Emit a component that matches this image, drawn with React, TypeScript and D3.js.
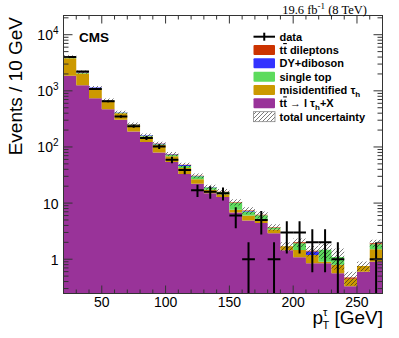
import React, { useEffect, useRef } from "react";
import * as d3 from "d3";

// bin lower edges (GeV), 10 GeV bins
const binLow = [20, 30, 40, 50, 60, 70, 80, 90, 100, 110, 120, 130, 140, 150, 160, 170, 180, 190, 200, 210, 220, 230, 240, 250, 260];

// stacked MC contributions, bottom to top
const ttLtau = [1860, 1260, 740, 470, 305, 189, 122, 80, 54, 33, 22, 15, 12.8, 6.8, 4.9, 4.4, 2.9, 1.45, 1.08, 0.85, 0.85, 0.56, 0.33, 0.6, 0.9];
const misidTau = [1950, 780, 350, 185, 92, 55, 32, 28, 14, 9, 4.5, 2.2, 1.5, 0.8, 1.1, 0.6, 0.5, 0.25, 0.38, 0.34, 0.05, 0.24, 0.12, 0.16, 0.61];
const singleTop = [150, 70, 35, 18, 10, 8, 5, 4, 5, 4, 3.5, 1.7, 1.5, 2.5, 1.1, 1.1, 0.25, 0, 0.47, 0, 0.57, 0.3, 0, 0, 0.34];
const dyDiboson = [80, 40, 20, 10, 4, 3, 2, 2.5, 1.5, 1.5, 0.3, 0.2, 0, 0, 0.15, 0, 0, 0, 0, 0.18, 0, 0, 0, 0, 0];
const ttDilep = [20, 10, 5, 2, 1, 1, 1, 0.5, 0.5, 0.5, 0.3, 0.1, 0.2, 0.3, 0.15, 0.1, 0.05, 0, 0.07, 0.05, 0, 0, 0.02, 0, 0.08];
const totalUnc = [250, 140, 75, 45, 28, 18, 12, 9, 6, 4.5, 3, 2, 1.8, 1.3, 1.0, 0.9, 0.5, 0.3, 0.35, 0.3, 0.45, 0.45, 0.13, 0.15, 0.3];
const dataCounts = [4000, 2200, 1080, 650, 350, 235, 145, 102, 59, 39, 17, 16, 15, 6, 1, 5, 1, 3, 3, 2, 2, 1, 0, 0, 1];

const xMajor = [50, 100, 150, 200, 250];
const yMajor = [1, 10, 100, 1000, 10000];
const yMajorLabel = ["1", "10", "10", "10", "10"];
const yMajorExp = ["", "", "2", "3", "4"];

const colors: Record<string, string> = {
  ttLtau: "#993399",
  misid: "#cc9900",
  singleTop: "#5ddb5d",
  dy: "#3333ff",
  ttDilep: "#cc3300",
};

const W = 399;
const H = 338;
const M = { left: 63.5, right: 382.5, top: 15.5, bottom: 293.5 };
const FONT = "'Liberation Sans', Arial, Helvetica, sans-serif";

export default function App() {
  const ref = useRef<SVGGElement>(null);

  useEffect(() => {
    const g = d3.select(ref.current);
    g.selectAll("*").remove();

    const x = d3.scaleLinear().domain([20, 270]).range([M.left, M.right]);
    const y = d3.scaleLog().domain([0.245, 22000]).range([M.bottom, M.top]);
    const yc = (v: number) => y(Math.max(v, 0.1));

    const keys = ["ttLtau", "misid", "singleTop", "dy", "ttDilep"];
    const rows = binLow.map((lo, i) => ({
      lo,
      ttLtau: ttLtau[i],
      misid: misidTau[i],
      singleTop: singleTop[i],
      dy: dyDiboson[i],
      ttDilep: ttDilep[i],
      unc: totalUnc[i],
    }));
    const rowsExt = [...rows, { ...rows[rows.length - 1], lo: 270 }];
    const series = d3.stack<any>().keys(keys)(rowsExt);

    const plot = g.append("g").attr("clip-path", "url(#plotClip)");

    const area = d3
      .area<any>()
      .curve(d3.curveStepAfter)
      .x((d) => x(d.data.lo))
      .y0((d) => yc(d[0]))
      .y1((d) => yc(d[1]));

    plot
      .selectAll("path.layer")
      .data(series)
      .enter()
      .append("path")
      .attr("class", "layer")
      .attr("fill", (s) => colors[s.key])
      .attr("d", area);

    // total uncertainty band
    const top = series[series.length - 1];
    const band = d3
      .area<any>()
      .curve(d3.curveStepAfter)
      .x((d) => x(d.data.lo))
      .y0((d) => yc(d[1] - d.data.unc))
      .y1((d) => yc(d[1] + d.data.unc));
    plot.append("path").attr("fill", "url(#hatch)").attr("d", band(top));

    // data points
    const pts = binLow
      .map((lo, i) => ({ lo, n: dataCounts[i] }))
      .filter((d) => d.n > 0);
    const dg = plot.append("g").attr("stroke", "#000").attr("stroke-width", 2);
    dg.selectAll("line.h")
      .data(pts)
      .enter()
      .append("line")
      .attr("x1", (d) => x(d.lo))
      .attr("x2", (d) => x(d.lo + 10))
      .attr("y1", (d) => y(d.n))
      .attr("y2", (d) => y(d.n));
    dg.selectAll("line.v")
      .data(pts)
      .enter()
      .append("line")
      .attr("x1", (d) => x(d.lo + 5))
      .attr("x2", (d) => x(d.lo + 5))
      .attr("y1", (d) => yc(d.n + Math.sqrt(d.n)))
      .attr("y2", (d) => yc(d.n - Math.sqrt(d.n)));

    // frame and ticks
    const ax = g.append("g").attr("stroke", "#333").attr("stroke-width", 1).attr("fill", "none");
    ax.append("rect")
      .attr("x", M.left)
      .attr("y", M.top)
      .attr("width", M.right - M.left)
      .attr("height", M.bottom - M.top);

    const xTicks = d3.range(30, 270, 10);
    xTicks.forEach((v) => {
      const len = v % 50 === 0 ? 8 : 4;
      ax.append("line").attr("x1", x(v)).attr("x2", x(v)).attr("y1", M.bottom).attr("y2", M.bottom - len);
      ax.append("line").attr("x1", x(v)).attr("x2", x(v)).attr("y1", M.top).attr("y2", M.top + len);
    });

    y.ticks().forEach((v) => {
      const lg = Math.log10(v);
      const len = Math.abs(lg - Math.round(lg)) < 1e-6 ? 9 : 5;
      ax.append("line").attr("x1", M.left).attr("x2", M.left + len).attr("y1", y(v)).attr("y2", y(v));
      ax.append("line").attr("x1", M.right).attr("x2", M.right - len).attr("y1", y(v)).attr("y2", y(v));
    });

    // tick labels
    const lab = g.append("g").attr("font-family", FONT).attr("fill", "#000");
    lab.selectAll("text.xl")
      .data(xMajor)
      .enter()
      .append("text")
      .attr("x", (d) => x(d))
      .attr("y", 307)
      .attr("text-anchor", "middle")
      .attr("font-size", 14)
      .text((d) => d);

    yMajor.forEach((v, i) => {
      const t = lab
        .append("text")
        .attr("x", 58.5)
        .attr("y", y(v) + 5.5)
        .attr("text-anchor", "end")
        .attr("font-size", 14);
      t.append("tspan").text(yMajorLabel[i]);
      if (yMajorExp[i]) {
        t.append("tspan").attr("dy", -6).attr("font-size", 10).text(yMajorExp[i]);
      }
    });
  }, []);

  const legendX = 253.5;
  const legendY = (i: number) => 36.7 + 13.33 * i;
  const box = (i: number, fill: string) => (
    <rect x={legendX} y={legendY(i) - 5} width={21.5} height={10} rx={1} fill={fill} />
  );

  return (
    <svg width={W} height={H} style={{ position: "absolute", left: 0, top: 0, background: "#fff" }}>
      <defs>
        <clipPath id="plotClip">
          <rect x={M.left} y={M.top} width={M.right - M.left} height={M.bottom - M.top} />
        </clipPath>
        <pattern id="hatch" patternUnits="userSpaceOnUse" width="4" height="4">
          <path d="M-1,1 l2,-2 M0,4 l4,-4 M3,5 l2,-2" stroke="#222" strokeWidth="0.6" />
        </pattern>
      </defs>
      <rect x={0} y={0} width={W} height={H} fill="#fff" />
      <g ref={ref} />

      <text x={367} y={13.5} textAnchor="end" fontFamily="'Liberation Serif', 'Times New Roman', serif" fontSize={12.5}>
        19.6 fb<tspan dy={-4.5} fontSize={9}>-1</tspan>
        <tspan dy={4.5}> (8 TeV)</tspan>
      </text>

      <text x={79} y={41.5} fontFamily={FONT} fontWeight="bold" fontSize={13.5}>
        CMS
      </text>

      <text
        transform="translate(22,17) rotate(-90)"
        textAnchor="end"
        fontFamily={FONT}
        fontSize={19}
      >
        Events / 10 GeV
      </text>

      <text x={383} y={324} textAnchor="end" fontFamily={FONT} fontSize={19}>
        p<tspan dy={-8} fontSize={11}>τ</tspan>
        <tspan dx={-5} dy={13} fontSize={11}>T</tspan>
        <tspan dy={-5}> [GeV]</tspan>
      </text>

      <g fontFamily={FONT} fontWeight="bold" fontSize={11}>
        <line x1={legendX} x2={legendX + 21.5} y1={legendY(0)} y2={legendY(0)} stroke="#000" strokeWidth={2} />
        <line x1={legendX + 10.75} x2={legendX + 10.75} y1={legendY(0) - 4} y2={legendY(0) + 4} stroke="#000" strokeWidth={2} />
        <text x={279.5} y={legendY(0) + 4}>data</text>

        {box(1, colors.ttDilep)}
        <text x={279.5} y={legendY(1) + 4}>
          t<tspan style={{ textDecoration: "overline" }}>t</tspan> dileptons
        </text>

        {box(2, colors.dy)}
        <text x={279.5} y={legendY(2) + 4}>DY+diboson</text>

        {box(3, colors.singleTop)}
        <text x={279.5} y={legendY(3) + 4}>single top</text>

        {box(4, colors.misid)}
        <text x={279.5} y={legendY(4) + 4}>
          misidentified τ<tspan dy={2.5} fontSize={8}>h</tspan>
        </text>

        {box(5, colors.ttLtau)}
        <text x={279.5} y={legendY(5) + 4}>
          t<tspan style={{ textDecoration: "overline" }}>t</tspan> → l τ<tspan dy={2.5} fontSize={8}>h</tspan>
          <tspan dy={-2.5}>+X</tspan>
        </text>

        <rect x={legendX} y={legendY(6) - 5} width={21.5} height={10} fill="url(#hatch)" stroke="#888" strokeWidth={0.8} />
        <text x={279.5} y={legendY(6) + 4}>total uncertainty</text>
      </g>
    </svg>
  );
}
